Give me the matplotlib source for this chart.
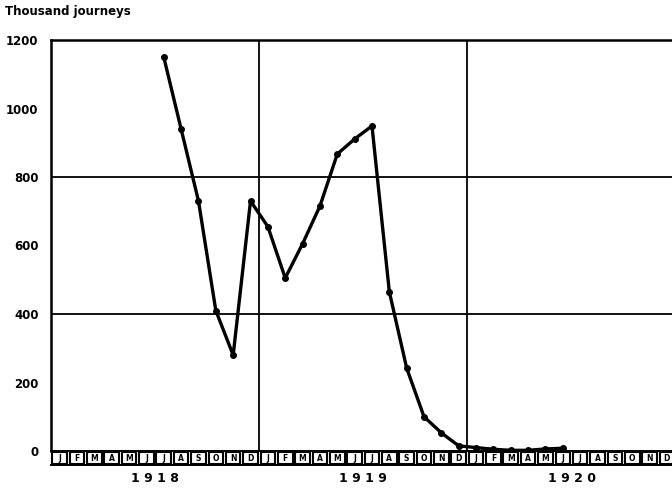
import matplotlib
matplotlib.use("Agg")
import matplotlib.pyplot as plt
from matplotlib.patches import Rectangle

# monthly journeys (thousands), Jul 1918 .. Jun 1920
start_month = 6  # July 1918, counted from Jan 1918
journeys = [1150, 940, 730, 410, 280, 730,
            655, 505, 605, 715, 867, 911, 949, 465, 242, 100, 53, 15,
            10, 5, 2, 2, 6, 8]
month_letters = ["J", "F", "M", "A", "M", "J", "J", "A", "S", "O", "N", "D"]
years = ["1918", "1919", "1920"]
y_ticks = [0, 200, 400, 600, 800, 1000, 1200]

W, H = 672, 493
fig = plt.figure(figsize=(W / 100, H / 100), dpi=100)

px_month = 17.35
x0, y_top, y_zero = 51, 40, 451
xmax = (W - x0) / px_month

ax = fig.add_axes([x0 / W, 1 - y_zero / H, (W - x0) / W, (y_zero - y_top) / H])
ax.set_xlim(0, xmax)
ax.set_ylim(0, 1200)

xs = [start_month + i + 0.5 for i in range(len(journeys))]
ax.plot(xs, journeys, color="black", lw=2.4, marker="o", markersize=4, zorder=3)

for yv in (400, 800):
    ax.axhline(yv, color="black", lw=1.3)
for xv in (12, 24):
    ax.axvline(xv, color="black", lw=1.3)

for side in ("right", "bottom"):
    ax.spines[side].set_visible(False)
ax.spines["left"].set_linewidth(1.8)
ax.spines["top"].set_linewidth(1.8)
ax.set_xticks([])
ax.set_yticks(y_ticks)
ax.set_yticklabels([str(v) for v in y_ticks], fontsize=8.5, fontweight="bold")
ax.tick_params(axis="y", length=0, pad=9)

fig.text(5 / W, 1 - 12 / H, "Thousand journeys", fontsize=8.5, fontweight="bold",
         va="center", ha="left")

# month strip below the zero line
strip = fig.add_axes([x0 / W, 1 - 465 / H, (W - x0) / W, 14 / H])
strip.set_xlim(0, xmax)
strip.set_ylim(0, 1)
strip.axis("off")
for m in range(36):
    strip.add_patch(Rectangle((m + 0.08, 0.1), 0.84, 0.8, fill=False,
                              edgecolor="black", lw=1.5, clip_on=False))
    strip.text(m + 0.5, 0.48, month_letters[m % 12], ha="center", va="center",
               fontsize=5.5, fontweight="bold")
strip.plot([0, xmax], [1, 1], color="black", lw=1.4, clip_on=False)
strip.plot([0, xmax], [0, 0], color="black", lw=1.4, clip_on=False)

for i, yr in enumerate(years):
    fig.text((x0 + (12 * i + 6) * px_month) / W, 1 - 479 / H, " ".join(yr),
             ha="center", va="center", fontsize=9, fontweight="bold")

fig.savefig("out.png", dpi=100)
